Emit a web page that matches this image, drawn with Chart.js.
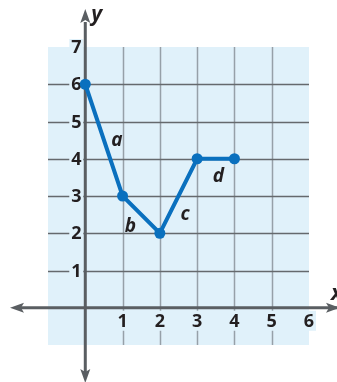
<!DOCTYPE html>
<html>
<head>
<meta charset="utf-8">
<script src="https://cdn.jsdelivr.net/npm/chart.js@4"></script>
<style>
  html, body { margin: 0; padding: 0; background: #ffffff; }
  #wrap { width: 337px; height: 382px; }
</style>
</head>
<body>
<div id="wrap"><canvas id="graph" width="337" height="382"></canvas></div>
<script>
// data
const xValues = [0, 1, 2, 3, 4];
const yValues = [6, 3, 2, 4, 4];
const segmentNames = ['a', 'b', 'c', 'd'];
const segmentLabelX = [0.85, 1.21, 2.68, 3.57];
const segmentLabelY = [4.48, 2.17, 2.51, 3.51];
const xTicks = [1, 2, 3, 4, 5, 6];
const yTicks = [1, 2, 3, 4, 5, 6, 7];

const bgColor = '#e0f1fa';
const vGridColor = '#96a0a8';
const hGridColor = '#65696d';
const axisColor = '#5a5e62';
const inkColor = '#231f20';
const lineColor = '#0a70be';

const points = xValues.map((x, i) => ({ x: x, y: yValues[i] }));

// grid, axes, tick labels
const gridPlugin = {
    id: 'gridPlugin',
    beforeDatasetsDraw(chart) {
        const { ctx, chartArea, scales } = chart;
        const sx = scales.x, sy = scales.y;
        ctx.save();

        // background
        ctx.fillStyle = bgColor;
        ctx.fillRect(chartArea.left, chartArea.top, chartArea.right - chartArea.left, chartArea.bottom - chartArea.top);

        // grid lines
        ctx.lineWidth = 1.5;
        ctx.strokeStyle = vGridColor;
        for (let v = 1; v <= 5; v++) {
            const px = Math.round(sx.getPixelForValue(v)) + 0.5;
            ctx.beginPath();
            ctx.moveTo(px, chartArea.top);
            ctx.lineTo(px, chartArea.bottom);
            ctx.stroke();
        }
        ctx.strokeStyle = hGridColor;
        for (let v = 1; v <= 6; v++) {
            const py = Math.round(sy.getPixelForValue(v)) + 0.5;
            ctx.beginPath();
            ctx.moveTo(chartArea.left, py);
            ctx.lineTo(chartArea.right, py);
            ctx.stroke();
        }

        const x0 = sx.getPixelForValue(0);
        const y0 = sy.getPixelForValue(0);

        // tick labels with knockout
        ctx.font = 'bold 18px "Open Sans", sans-serif';
        ctx.textBaseline = 'middle';
        ctx.textAlign = 'center';
        yTicks.forEach(v => {
            const py = sy.getPixelForValue(v);
            ctx.fillStyle = bgColor;
            ctx.fillRect(x0 - 16, py - 8, 14, 16);
            ctx.fillStyle = inkColor;
            ctx.fillText(String(v), x0 - 9, py + 1);
        });
        xTicks.forEach(v => {
            const px = sx.getPixelForValue(v);
            ctx.fillStyle = bgColor;
            ctx.fillRect(px - 7, y0 + 3, 14, 20);
            ctx.fillStyle = inkColor;
            ctx.fillText(String(v), px, y0 + 14);
        });

        // axes with arrows
        ctx.strokeStyle = axisColor;
        ctx.fillStyle = axisColor;
        ctx.lineWidth = 3;
        ctx.beginPath();
        ctx.moveTo(20, y0);
        ctx.lineTo(chart.width, y0);
        ctx.stroke();
        ctx.beginPath();
        ctx.moveTo(x0, 22);
        ctx.lineTo(x0, chart.height - 10);
        ctx.stroke();

        const arrow = (tx, ty, dx, dy) => {
            const len = 14, half = 5;
            const bx = tx - dx * len, by = ty - dy * len;
            ctx.beginPath();
            ctx.moveTo(tx, ty);
            ctx.lineTo(bx - dy * half, by + dx * half);
            ctx.lineTo(bx + dx * 3, by + dy * 3);
            ctx.lineTo(bx + dy * half, by - dx * half);
            ctx.closePath();
            ctx.fill();
        };
        arrow(10, y0, -1, 0);
        arrow(chart.width + 3, y0, 1, 0);
        arrow(x0, 9, 0, -1);
        arrow(x0, chart.height + 1, 0, 1);

        // axis names
        ctx.fillStyle = inkColor;
        ctx.font = 'italic bold 21px "Open Sans", sans-serif';
        ctx.textAlign = 'left';
        ctx.fillText('y', x0 + 6, 15);
        ctx.fillText('x', chart.width - 6, y0 - 14);

        ctx.restore();
    },
    afterDatasetsDraw(chart) {
        const { ctx, scales } = chart;
        ctx.save();
        ctx.fillStyle = inkColor;
        ctx.font = 'italic bold 19px "Open Sans", sans-serif';
        ctx.textAlign = 'center';
        ctx.textBaseline = 'middle';
        segmentNames.forEach((name, i) => {
            ctx.fillText(name, scales.x.getPixelForValue(segmentLabelX[i]), scales.y.getPixelForValue(segmentLabelY[i]));
        });
        ctx.restore();
    }
};

new Chart(document.getElementById('graph').getContext('2d'), {
    type: 'scatter',
    data: {
        datasets: [{
            data: points,
            showLine: true,
            borderColor: lineColor,
            backgroundColor: lineColor,
            borderWidth: 4,
            pointRadius: 5.5,
            pointBorderWidth: 0,
            tension: 0,
            clip: false
        }]
    },
    options: {
        responsive: false,
        animation: false,
        layout: { padding: { left: 48, right: 28, top: 47, bottom: 37 } },
        plugins: { legend: { display: false }, tooltip: { enabled: false } },
        scales: {
            x: { type: 'linear', min: -1, max: 6, display: false },
            y: { type: 'linear', min: -1, max: 7, display: false }
        }
    },
    plugins: [gridPlugin]
});
</script>
</body>
</html>
